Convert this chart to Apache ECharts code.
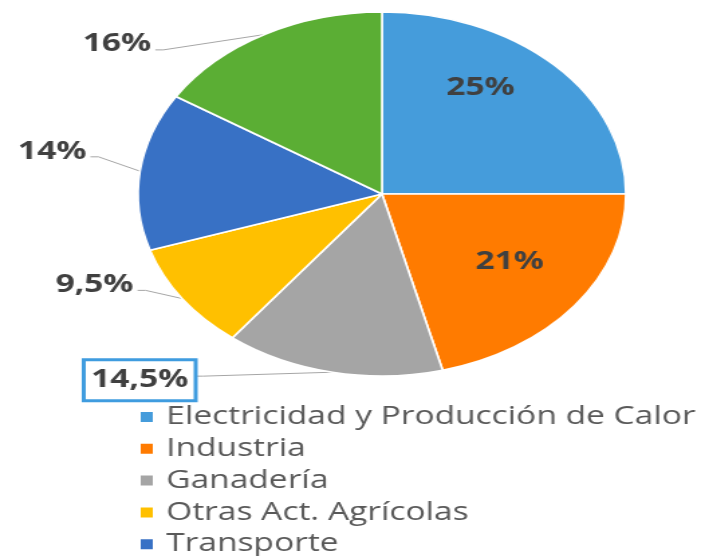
<!DOCTYPE html>
<html>
<head>
<meta charset="utf-8">
<script src="https://cdn.jsdelivr.net/npm/echarts@6/dist/echarts.min.js"></script>
<style>
  html, body { margin: 0; padding: 0; background: #ffffff; overflow: hidden; }
  /* the reference is stretched sideways, so draw narrow and scale */
  #chart { width: 529px; height: 556px; transform: scaleX(1.3403); transform-origin: 0 0; }
</style>
</head>
<body>
<div id="chart"></div>
<script>
// Data
const sectors = [
  'Electricidad y Producción de Calor',
  'Industria',
  'Ganadería',
  'Otras Act. Agrícolas',
  'Transporte',
  'Edificios y Otros'
];
const shares = [25, 21, 14.5, 9.5, 14, 16];
const sliceColors = ['#459CDB', '#FF7B00', '#A5A5A5', '#FFC000', '#3871C5', '#5BAE34'];

// label placement tweaks (Excel style labels)
const insideIdx = [0, 1];
const labelDx = [7, 21, 0, 0, 0, 0];
const labelDy = [-40, 10, 5, -16, -19, 12];
const lineDy = [0, 0, 1, -10, -14, 18];
const leaderLen2 = [0, 0, 102, 31, 34, 80];

const chart = echarts.init(document.getElementById('chart'));

const pieData = sectors.map((name, i) => {
  const item = { name: name, value: shares[i], itemStyle: { color: sliceColors[i] } };
  if (insideIdx.includes(i)) {
    item.label = { position: 'inside' };
    item.labelLine = { show: false };
  } else {
    item.labelLine = { length: 3, length2: leaderLen2[i] };
  }
  return item;
});

// selected label with the blue box
pieData[2].label = {
  borderColor: '#3F9CDF',
  borderWidth: 3,
  padding: [4, 4, 4, 4],
  backgroundColor: '#ffffff',
  distanceToLabelLine: 1
};

chart.setOption({
  animation: false,
  legend: {
    orient: 'vertical',
    left: 98,
    top: 397,
    height: 400,
    itemWidth: 11,
    itemHeight: 12,
    itemGap: 1.8,
    icon: 'rect',
    textStyle: {
      fontFamily: 'Open Sans',
      fontSize: 25,
      color: '#595959',
      lineHeight: 30,
      padding: [0, 0, 0, 4]
    },
    data: sectors
  },
  series: [{
    type: 'pie',
    center: [285, 194],
    radius: [0, 182],
    startAngle: 90,
    clockwise: true,
    avoidLabelOverlap: false,
    itemStyle: { borderColor: '#ffffff', borderWidth: 1.6 },
    label: {
      show: true,
      fontFamily: 'Open Sans',
      fontSize: 25,
      fontWeight: 'bold',
      color: '#404040',
      lineHeight: 30,
      distanceToLabelLine: 3,
      formatter: p => String(p.value).replace('.', ',') + '%'
    },
    labelLine: {
      show: true,
      lineStyle: { color: '#A6A6A6', width: 1 }
    },
    labelLayout: function (params) {
      const i = params.dataIndex;
      const out = { dx: labelDx[i], dy: labelDy[i] };
      const pts = params.labelLinePoints;
      if (pts && !insideIdx.includes(i)) {
        const end = pts[2];
        const ly = end[1] + lineDy[i];
        out.labelLinePoints = [pts[0], [end[0] + 6, ly], [end[0], ly]];
      }
      return out;
    },
    emphasis: { disabled: true },
    data: pieData
  }]
});
</script>
</body>
</html>
